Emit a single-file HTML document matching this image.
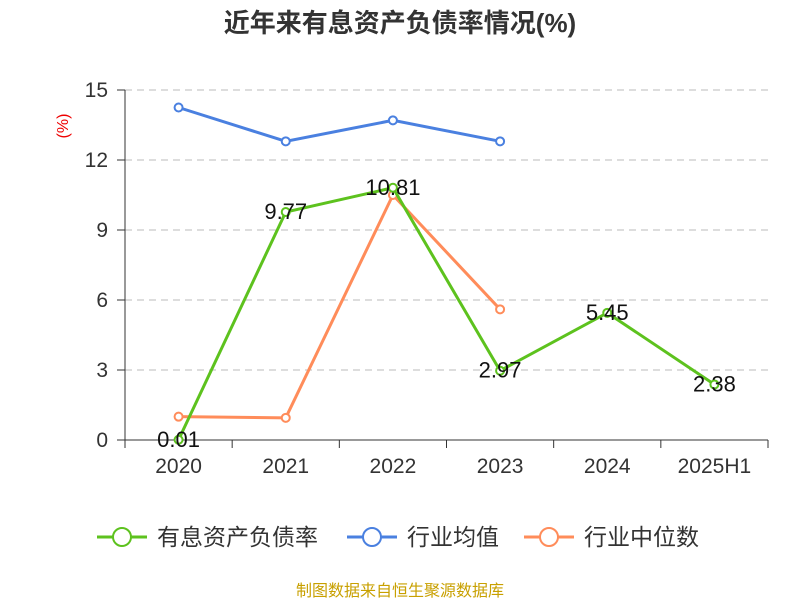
<!DOCTYPE html>
<html><head><meta charset="utf-8"><style>
body{margin:0;background:#fff;}
svg text{font-family:"Liberation Sans","Noto Sans CJK SC",sans-serif;}
</style></head><body>
<svg width="800" height="600" xmlns="http://www.w3.org/2000/svg">
<text x="400" y="32" text-anchor="middle" font-size="26" font-weight="bold" fill="#333">近年来有息资产负债率情况(%)</text>
<text x="68" y="126" font-size="16" fill="#e00" transform="rotate(-90 68 126)" text-anchor="middle">(%)</text>
<g id="grid"></g><g id="axes"></g><g id="series"></g>
<g>
<g><line x1="97" y1="537" x2="147" y2="537" stroke="#5dc21e" stroke-width="3"/><circle cx="122" cy="537" r="9" fill="#fff" stroke="#5dc21e" stroke-width="2"/><text x="157" y="545" font-size="23" fill="#333">有息资产负债率</text></g>
<g><line x1="347" y1="537" x2="397" y2="537" stroke="#4a80e0" stroke-width="3"/><circle cx="372" cy="537" r="9" fill="#fff" stroke="#4a80e0" stroke-width="2"/><text x="407" y="545" font-size="23" fill="#333">行业均值</text></g>
<g><line x1="524" y1="537" x2="574" y2="537" stroke="#ff8c5a" stroke-width="3"/><circle cx="549" cy="537" r="9" fill="#fff" stroke="#ff8c5a" stroke-width="2"/><text x="584" y="545" font-size="23" fill="#333">行业中位数</text></g>
</g>
<text x="400" y="596" text-anchor="middle" font-size="16" fill="#c8a000">制图数据来自恒生聚源数据库</text>
</svg>
<script>
const categories=["2020","2021","2022","2023","2024","2025H1"];
const rateValues=[0.01,9.77,10.81,2.97,5.45,2.38];
const avgValues=[14.25,12.8,13.7,12.8,null,null];
const medianValues=[1.0,0.95,10.5,5.6,null,null];
const yTicks=[0,3,6,9,12,15];
const NS="http://www.w3.org/2000/svg";
const x0=125,x1=768,y0=440,y1=90,ymax=15;
const bw=(x1-x0)/categories.length;
const xs=i=>x0+bw*(i+0.5);
const ys=v=>y0-(v/ymax)*(y0-y1);
function mk(tag,attrs,parent){const e=document.createElementNS(NS,tag);for(const k in attrs)e.setAttribute(k,attrs[k]);parent.appendChild(e);return e;}
const grid=document.getElementById('grid'),axes=document.getElementById('axes'),ser=document.getElementById('series');
yTicks.forEach(t=>{
  if(t>0){const g=mk('line',{x1:x0,x2:x1,y1:ys(t),y2:ys(t),stroke:'#bbb','stroke-dasharray':'7,5'},grid);
  
  }
  const tk=mk('line',{x1:x0-8,x2:x0,y1:ys(t),y2:ys(t),stroke:'#333'},axes);
  
  
  const l=mk('text',{x:108,y:ys(t)+7,'text-anchor':'end','font-size':21,fill:'#333'},axes);
  l.textContent=t;
  
  
});
const ya=mk('line',{x1:x0,x2:x0,y1:y1,y2:y0,stroke:'#333'},axes);


const xa=mk('line',{x1:x0,x2:x1,y1:y0,y2:y0,stroke:'#333'},axes);


for(let i=0;i<=categories.length;i++){const t=mk('line',{x1:x0+bw*i,x2:x0+bw*i,y1:y0,y2:y0+8,stroke:'#333'},axes);
  
  }
categories.forEach((c,i)=>{const l=mk('text',{x:xs(i),y:473,'text-anchor':'middle','font-size':21,fill:'#333'},axes);
  l.textContent=c;
  
  });
function series(vals,color,name,labels){
  const pts=vals.map((v,i)=>v==null?null:[xs(i),ys(v)]).filter(p=>p);
  const pl=mk('polyline',{points:pts.map(p=>p.join(',')).join(' '),fill:'none',stroke:color,'stroke-width':3},ser);
  
  
  vals.forEach((v,i)=>{if(v==null)return;
    const c=mk('circle',{cx:xs(i),cy:ys(v),r:4,fill:'#fff',stroke:color,'stroke-width':2},ser);
    
    
    if(labels){const t=mk('text',{x:xs(i),y:ys(v)+7,'text-anchor':'middle','font-size':22,fill:'#111'},ser);
      t.textContent=v.toFixed(2);
      
      }
  });
}
series(avgValues,'#4a80e0','industry-average',false);
series(medianValues,'#ff8c5a','industry-median',false);
series(rateValues,'#5dc21e','interest-bearing-debt-ratio',true);
</script>
</body></html>
